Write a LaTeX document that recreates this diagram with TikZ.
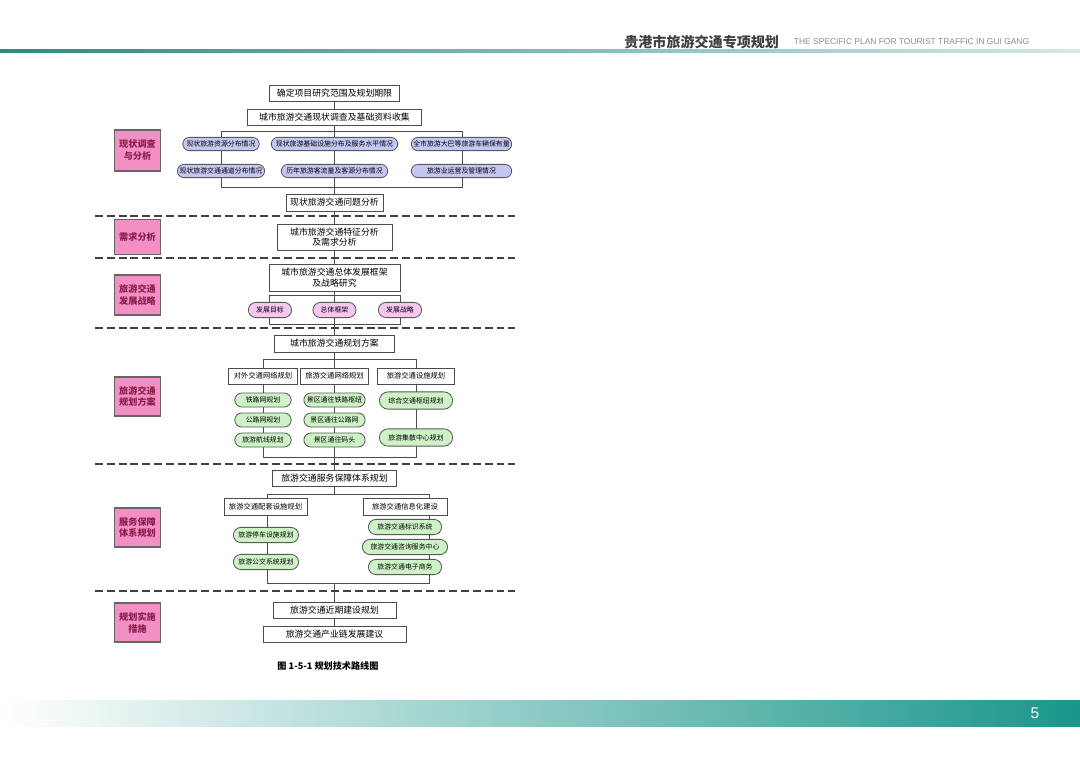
\documentclass[tikz,border=0pt]{standalone}
\usepackage{fontspec}
\setmainfont{Liberation Sans}
\newfontfamily\cjk{Noto Sans CJK SC}
\usetikzlibrary{shapes.misc, backgrounds}
\definecolor{secpink}{HTML}{F290C6}
\definecolor{secred}{HTML}{8A1E4A}
\definecolor{pillblue}{HTML}{C6C6F2}
\definecolor{pillpink}{HTML}{F4C6F0}
\definecolor{pillgreen}{HTML}{CDF2C6}
\definecolor{tealbar}{HTML}{1A968A}
\definecolor{tealline}{HTML}{2A8C80}
\definecolor{teallight}{HTML}{D2EAE6}
\begin{document}
\begin{tikzpicture}[x=0.025cm, y=-0.025cm,
  stepbox/.style={draw=black!70, fill=white, line width=0.5pt, inner sep=1pt, align=center, font=\cjk\fontsize{6.3}{7.6}\selectfont},
  substep/.style={stepbox, font=\cjk\fontsize{5.2}{6}\selectfont},
  pillbox/.style={rounded rectangle, draw=black!65, line width=0.6pt, inner sep=1pt, font=\cjk\fontsize{4.9}{5.5}\selectfont},
  secbox/.style={draw=black!60, line width=0.9pt, fill=secpink, minimum width=1.08cm, align=center, text=secred, font=\cjk\bfseries\fontsize{6.5}{8.5}\selectfont},
  conn/.style={draw=black!70, line width=0.5pt},
  sepline/.style={draw=black!75, line width=0.9pt, dash pattern=on 5.6pt off 2.8pt}]
\begin{scope}[on background layer]
\fill[white] (0,0) rectangle (1080,764);
\end{scope}
% header and footer
\shade[left color=tealline, right color=teallight] (0,49.5) rectangle (1080,52.5);
\node[font=\cjk\bfseries\fontsize{10}{12}\selectfont, text=black!75, anchor=east] (ttl) at (784,42) {贵港市旅游交通专项规划};
\node[font=\fontsize{6}{7}\selectfont, text=black!45, anchor=west] (ttlen) at (789,42) {THE SPECIFIC PLAN FOR TOURIST TRAFFIC IN GUI GANG};
\shade[left color=white, middle color=tealbar!38, right color=tealbar] (0,700) rectangle (1080,726);
\node[text=white, font=\fontsize{11}{12}\selectfont] (pnum) at (1035,713) {5};
% section labels
\node[secbox, minimum height=1.03cm] (sec1) at (137.5,150.5) {现状调查\\与分析};
\node[secbox, minimum height=0.88cm] (sec2) at (137.5,237) {需求分析};
\node[secbox, minimum height=1.0cm] (sec3) at (137.5,295) {旅游交通\\发展战略};
\node[secbox, minimum height=0.98cm] (sec4) at (137.5,396.5) {旅游交通\\规划方案};
\node[secbox, minimum height=0.98cm] (sec5) at (137.5,527.5) {服务保障\\体系规划};
\node[secbox, minimum height=0.98cm] (sec6) at (137.5,622.5) {规划实施\\措施};
% survey
\node[stepbox, minimum width=3.25cm, minimum height=0.4cm] (scope) at (334.5,93) {确定项目研究范围及规划期限};
\node[stepbox, minimum width=4.35cm, minimum height=0.4cm] (survey) at (334.5,117) {城市旅游交通现状调查及基础资料收集};
\node[pillbox, fill=pillblue, minimum width=1.98cm, minimum height=0.33cm] (res) at (221,144) {现状旅游资源分布情况};
\node[pillbox, fill=pillblue, minimum width=3.23cm, minimum height=0.33cm] (infra) at (334.5,144) {现状旅游基础设施分布及服务水平情况};
\node[pillbox, fill=pillblue, minimum width=2.58cm, minimum height=0.33cm] (fleet) at (461.5,144) {全市旅游大巴等旅游车辆保有量};
\node[pillbox, fill=pillblue, minimum width=2.1cm, minimum height=0.33cm] (corr) at (221,171) {现状旅游交通通道分布情况};
\node[pillbox, fill=pillblue, minimum width=2.73cm, minimum height=0.33cm] (flow) at (334.5,171) {历年旅游客流量及客源分布情况};
\node[pillbox, fill=pillblue, minimum width=2.58cm, minimum height=0.33cm] (oper) at (461.5,171) {旅游业运营及管理情况};
\node[stepbox, minimum width=2.43cm, minimum height=0.43cm] (issue) at (334.5,202.5) {现状旅游交通问题分析};
% demand and strategy
\node[stepbox, minimum width=2.88cm, minimum height=0.65cm] (demand) at (334.5,237) {城市旅游交通特征分析\\及需求分析};
\node[stepbox, minimum width=3.28cm, minimum height=0.68cm] (frame) at (334.5,277.5) {城市旅游交通总体发展框架\\及战略研究};
\node[pillbox, fill=pillpink, minimum width=1.15cm, minimum height=0.38cm] (goal) at (270,310) {发展目标};
\node[pillbox, fill=pillpink, minimum width=1.15cm, minimum height=0.38cm] (whole) at (334.5,310) {总体框架};
\node[pillbox, fill=pillpink, minimum width=1.15cm, minimum height=0.38cm] (strat) at (400,310) {发展战略};
% plan
\node[stepbox, minimum width=3.0cm, minimum height=0.43cm] (plan) at (334.5,343.5) {城市旅游交通规划方案};
\node[substep, minimum width=1.73cm, minimum height=0.4cm] (extnet) at (263,376) {对外交通网络规划};
\node[substep, minimum width=1.7cm, minimum height=0.4cm] (tournet) at (334.5,376) {旅游交通网络规划};
\node[substep, minimum width=1.93cm, minimum height=0.4cm] (facil) at (416,376) {旅游交通设施规划};
\node[pillbox, fill=pillgreen, minimum width=1.48cm, minimum height=0.35cm] (rail) at (263,400) {铁路网规划};
\node[pillbox, fill=pillgreen, minimum width=1.48cm, minimum height=0.35cm] (road) at (263,420) {公路网规划};
\node[pillbox, fill=pillgreen, minimum width=1.48cm, minimum height=0.35cm] (air) at (263,440) {旅游航线规划};
\node[pillbox, fill=pillgreen, minimum width=1.6cm, minimum height=0.35cm] (torail) at (334.5,400) {景区通往铁路枢纽};
\node[pillbox, fill=pillgreen, minimum width=1.6cm, minimum height=0.35cm] (toroad) at (334.5,420) {景区通往公路网};
\node[pillbox, fill=pillgreen, minimum width=1.6cm, minimum height=0.35cm] (topier) at (334.5,440) {景区通往码头};
\node[pillbox, fill=pillgreen, minimum width=1.9cm, minimum height=0.43cm] (hub) at (416,400.5) {综合交通枢纽规划};
\node[pillbox, fill=pillgreen, minimum width=1.9cm, minimum height=0.43cm] (dist) at (416,437.5) {旅游集散中心规划};
% service
\node[stepbox, minimum width=3.1cm, minimum height=0.4cm] (svc) at (334.5,478) {旅游交通服务保障体系规划};
\node[substep, minimum width=2.08cm, minimum height=0.43cm] (support) at (265.5,506.5) {旅游交通配套设施规划};
\node[substep, minimum width=2.1cm, minimum height=0.43cm] (info) at (405,506.5) {旅游交通信息化建设};
\node[pillbox, fill=pillgreen, minimum width=1.7cm, minimum height=0.38cm] (park) at (266,535) {旅游停车设施规划};
\node[pillbox, fill=pillgreen, minimum width=1.7cm, minimum height=0.38cm] (bus) at (266,562) {旅游公交系统规划};
\node[pillbox, fill=pillgreen, minimum width=1.9cm, minimum height=0.38cm] (sign) at (405,527) {旅游交通标识系统};
\node[pillbox, fill=pillgreen, minimum width=2.2cm, minimum height=0.38cm] (consult) at (405,547) {旅游交通咨询服务中心};
\node[pillbox, fill=pillgreen, minimum width=1.9cm, minimum height=0.38cm] (ecom) at (405,567) {旅游交通电子商务};
% implementation
\node[stepbox, minimum width=3.08cm, minimum height=0.4cm] (near) at (334.5,610) {旅游交通近期建设规划};
\node[stepbox, minimum width=3.58cm, minimum height=0.4cm] (chain) at (334.5,634) {旅游交通产业链发展建议};
\node[font=\cjk\bfseries\fontsize{6.5}{8}\selectfont] (cap) at (328,666) {图 1-5-1 规划技术路线图};
% brackets
\coordinate (k1a) at (221,131); \coordinate (k1b) at (462,187);
\coordinate (k3a) at (269,295); \coordinate (k3b) at (400,324);
\coordinate (k4a) at (263,359); \coordinate (k4b) at (416,457);
\coordinate (k5a) at (267,494); \coordinate (k5b) at (429,583);
\begin{scope}[on background layer]
\draw[conn] (scope) -- (survey) -- (issue);
\draw[conn] (k1a) rectangle (k1b);
\draw[conn] (issue) -- (demand) -- (frame) -- (plan) -- (svc);
\draw[conn] (k3a) rectangle (k3b);
\draw[conn] (k4a) rectangle (k4b);
\draw[conn] (svc) -- (svc |- k5a);
\draw[conn] (k5a) rectangle (k5b);
\draw[conn] (svc |- k5b) -- (near) -- (chain);
\end{scope}
% stage separators
\foreach \yy in {216,258,328,464,591}
  \draw[sepline] (95,\yy) -- (515,\yy);
\end{tikzpicture}
\end{document}
